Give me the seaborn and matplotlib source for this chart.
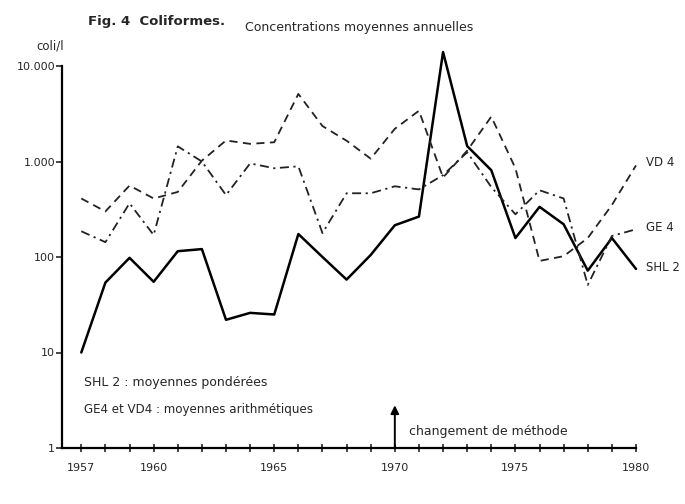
import pandas as pd
import matplotlib
matplotlib.use("Agg")
import matplotlib.pyplot as plt
import seaborn as sns
from matplotlib.ticker import FixedLocator, FixedFormatter, NullLocator

# Données (coli/l, moyennes annuelles)
annees = list(range(1957, 1981))
shl2 = [10, 54, 98, 55, 115, 121, 22, 26, 25, 174, 100, 58, 105, 215, 265,
        14000, 1450, 810, 158, 335, 220, 72, 158, 75]
ge4 = [186, 143, 365, 170, 1440, 1000, 445, 955, 850, 890, 178, 465, 465,
       550, 510, 720, 1250, 540, 280, 500, 410, 51, 166, 195]
vd4 = [410, 300, 560, 410, 480, 1020, 1660, 1530, 1590, 5100, 2350, 1650,
       1070, 2200, 3400, 680, 1300, 2950, 850, 91, 102, 158, 350, 910]

stations = ["SHL 2", "GE 4", "VD 4"]
y_ticks = [1, 10, 100, 1000, 10000]
y_labels = ["1", "10", "100", "1.000", "10.000"]
x_labels_years = [1957, 1960, 1965, 1970, 1975, 1980]

df = pd.DataFrame({
    "annee": annees * 3,
    "coli": shl2 + ge4 + vd4,
    "station": [s for s in stations for _ in annees],
})

sns.set_style("ticks")
plt.rcParams["font.family"] = ["DejaVu Sans"]

W, H = 685, 504
fig = plt.figure(figsize=(W / 100, H / 100), dpi=100)
ax = fig.add_axes([62 / W, 1 - 448 / H, (636 - 62) / W, (448 - 66) / H])

sns.lineplot(
    data=df, x="annee", y="coli",
    hue="station", style="station",
    palette={"SHL 2": "black", "GE 4": "#222222", "VD 4": "#222222"},
    dashes={"SHL 2": "", "GE 4": (5, 2.5, 1.2, 2.5), "VD 4": (4.5, 3)},
    legend=False, ax=ax,
)
for line, lw in zip(ax.lines, [1.8, 1.3, 1.3]):
    line.set_linewidth(lw)
    line.set_clip_on(False)

ax.set_yscale("log")
ax.set_ylim(1, 10000)
ax.set_xlim(1956.2, 1980)

ax.yaxis.set_major_locator(FixedLocator(y_ticks))
ax.yaxis.set_major_formatter(FixedFormatter(y_labels))
ax.yaxis.set_minor_locator(NullLocator())
ax.xaxis.set_major_locator(FixedLocator(annees))
ax.xaxis.set_major_formatter(FixedFormatter(
    [str(a) if a in x_labels_years else "" for a in annees]))

ax.tick_params(axis="y", direction="out", length=4, width=1.2, labelsize=8, pad=1)
ax.tick_params(axis="x", direction="inout", length=6, width=1.2, labelsize=8, pad=8)
ax.set_xlabel("")
ax.set_ylabel("")
for side in ["top", "right"]:
    ax.spines[side].set_visible(False)
for side in ["left", "bottom"]:
    ax.spines[side].set_linewidth(1.6)
    ax.spines[side].set_color("black")

# étiquettes des courbes à droite
ax.text(1980.4, 980, "VD 4", fontsize=8.5, va="center", ha="left", clip_on=False)
ax.text(1980.4, 205, "GE 4", fontsize=8.5, va="center", ha="left", clip_on=False)
ax.text(1980.4, 78, "SHL 2", fontsize=8.5, va="center", ha="left", clip_on=False)

# notes
ax.text(1957.1, 4.9, "SHL 2 : moyennes pondérées", fontsize=9, va="center")
ax.text(1957.1, 2.5, "GE4 et VD4 : moyennes arithmétiques", fontsize=8.6, va="center")

# changement de méthode
ax.annotate("", xy=(1970, 2.8), xytext=(1970, 1),
            arrowprops=dict(arrowstyle="-|>", color="black", lw=1.4,
                            mutation_scale=12, shrinkA=0, shrinkB=0))
ax.text(1970.6, 1.5, "changement de méthode", fontsize=9, va="center")

# titre
fig.text(88 / W, 1 - 22 / H, "Fig. 4  Coliformes.", fontsize=9.5,
         fontweight="bold", va="center", ha="left")
fig.text(245 / W, 1 - 27 / H, "Concentrations moyennes annuelles",
         fontsize=9, va="center", ha="left")
fig.text(50 / W, 1 - 46 / H, "coli/l", fontsize=8.5, va="center", ha="center")

fig.savefig("out.png", dpi=100)
